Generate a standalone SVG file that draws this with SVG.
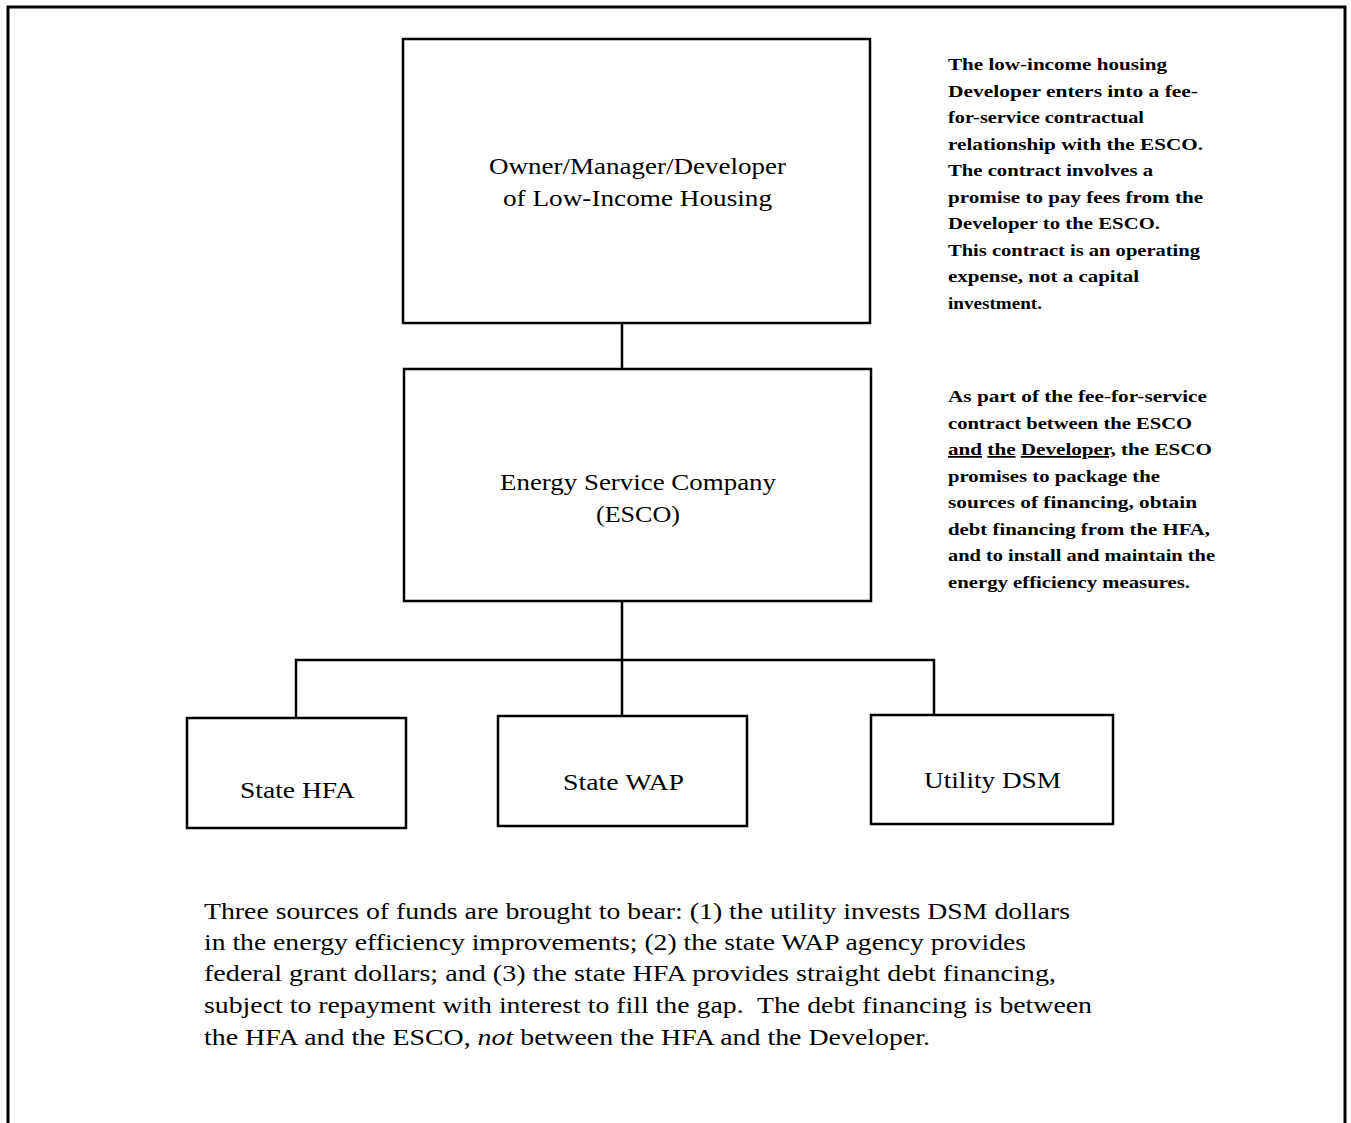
<svg xmlns="http://www.w3.org/2000/svg" width="1351" height="1123" viewBox="0 0 1351 1123" font-family="Liberation Serif, serif">
<style>
.box{fill:#fff;stroke:#000;stroke-width:2.5}
.conn{fill:none;stroke:#000;stroke-width:2.5}
.bt{font-size:24px}
.st{font-size:23px}
.side{font-size:17.5px;font-weight:bold}
.para{font-size:24px}
</style>
<rect width="1351" height="1123" fill="#fff"/>
<path d="M8,1123 V7 H1345 V1123" fill="none" stroke="#000" stroke-width="3"/>
<g id="connectors">
<line class="conn" x1="622" y1="323" x2="622" y2="369"/>
<path class="conn" d="M622,601 V660 M296,718 V660 H934 V716 M622,660 V716"/>
</g>
<g id="owner">
<rect class="box" x="403" y="39" width="467" height="284"/>
<text class="bt" font-family="Liberation Serif" x="637.5" y="174" text-anchor="middle" textLength="297" lengthAdjust="spacingAndGlyphs">Owner/Manager/Developer</text>
<text class="bt" font-family="Liberation Serif" x="637.5" y="206" text-anchor="middle" textLength="269" lengthAdjust="spacingAndGlyphs">of Low-Income Housing</text>
</g>
<g id="esco">
<rect class="box" x="404" y="369" width="467" height="232"/>
<text class="bt" font-family="Liberation Serif" x="638" y="490" text-anchor="middle" textLength="276" lengthAdjust="spacingAndGlyphs">Energy Service Company</text>
<text class="bt" font-family="Liberation Serif" x="638" y="522" text-anchor="middle" textLength="84" lengthAdjust="spacingAndGlyphs">(ESCO)</text>
</g>
<g id="hfa">
<rect class="box" x="187" y="718" width="219" height="110"/>
<text class="st" font-family="Liberation Serif" x="297.5" y="798" text-anchor="middle" textLength="115" lengthAdjust="spacingAndGlyphs">State HFA</text>
</g>
<g id="wap">
<rect class="box" x="498" y="716" width="249" height="110"/>
<text class="st" font-family="Liberation Serif" x="623.5" y="790" text-anchor="middle" textLength="121" lengthAdjust="spacingAndGlyphs">State WAP</text>
</g>
<g id="dsm">
<rect class="box" x="871" y="715" width="242" height="109"/>
<text class="st" font-family="Liberation Serif" x="992.5" y="788" text-anchor="middle" textLength="137" lengthAdjust="spacingAndGlyphs">Utility DSM</text>
</g>
<g id="note1" font-family="Liberation Serif">
<text class="side" x="948" y="70" textLength="219" lengthAdjust="spacingAndGlyphs">The low-income housing</text>
<text class="side" x="948" y="96.5" textLength="250" lengthAdjust="spacingAndGlyphs">Developer enters into a fee-</text>
<text class="side" x="948" y="123" textLength="196" lengthAdjust="spacingAndGlyphs">for-service contractual</text>
<text class="side" x="948" y="149.5" textLength="255" lengthAdjust="spacingAndGlyphs">relationship with the ESCO.</text>
<text class="side" x="948" y="176" textLength="205" lengthAdjust="spacingAndGlyphs">The contract involves a</text>
<text class="side" x="948" y="202.5" textLength="255" lengthAdjust="spacingAndGlyphs">promise to pay fees from the</text>
<text class="side" x="948" y="229" textLength="212" lengthAdjust="spacingAndGlyphs">Developer to the ESCO.</text>
<text class="side" x="948" y="255.5" textLength="252" lengthAdjust="spacingAndGlyphs">This contract is an operating</text>
<text class="side" x="948" y="282" textLength="191" lengthAdjust="spacingAndGlyphs">expense, not a capital</text>
<text class="side" x="948" y="308.5" textLength="94" lengthAdjust="spacingAndGlyphs">investment.</text>
</g>
<g id="note2" font-family="Liberation Serif">
<text class="side" x="948" y="402" textLength="259" lengthAdjust="spacingAndGlyphs">As part of the fee-for-service</text>
<text class="side" x="948" y="428.5" textLength="244" lengthAdjust="spacingAndGlyphs">contract between the ESCO</text>
<text class="side" x="948" y="455" textLength="264" lengthAdjust="spacingAndGlyphs"><tspan text-decoration="underline">and</tspan> <tspan text-decoration="underline">the</tspan> <tspan text-decoration="underline">Developer,</tspan> the ESCO</text>
<text class="side" x="948" y="481.5" textLength="212" lengthAdjust="spacingAndGlyphs">promises to package the</text>
<text class="side" x="948" y="508" textLength="249" lengthAdjust="spacingAndGlyphs">sources of financing, obtain</text>
<text class="side" x="948" y="534.5" textLength="262" lengthAdjust="spacingAndGlyphs">debt financing from the HFA,</text>
<text class="side" x="948" y="561" textLength="267" lengthAdjust="spacingAndGlyphs">and to install and maintain the</text>
<text class="side" x="948" y="587.5" textLength="242" lengthAdjust="spacingAndGlyphs">energy efficiency measures.</text>
</g>
<g id="caption" font-family="Liberation Serif">
<text class="para" x="204" y="919" textLength="866" lengthAdjust="spacingAndGlyphs">Three sources of funds are brought to bear: (1) the utility invests DSM dollars</text>
<text class="para" x="204" y="950" textLength="822" lengthAdjust="spacingAndGlyphs">in the energy efficiency improvements; (2) the state WAP agency provides</text>
<text class="para" x="204" y="981" textLength="852" lengthAdjust="spacingAndGlyphs">federal grant dollars; and (3) the state HFA provides straight debt financing,</text>
<text class="para" x="204" y="1013" textLength="888" lengthAdjust="spacingAndGlyphs" xml:space="preserve">subject to repayment with interest to fill the gap.  The debt financing is between</text>
<text class="para" x="204" y="1045" textLength="726" lengthAdjust="spacingAndGlyphs">the HFA and the ESCO, <tspan font-style="italic">not</tspan> between the HFA and the Developer.</text>
</g>
</svg>
